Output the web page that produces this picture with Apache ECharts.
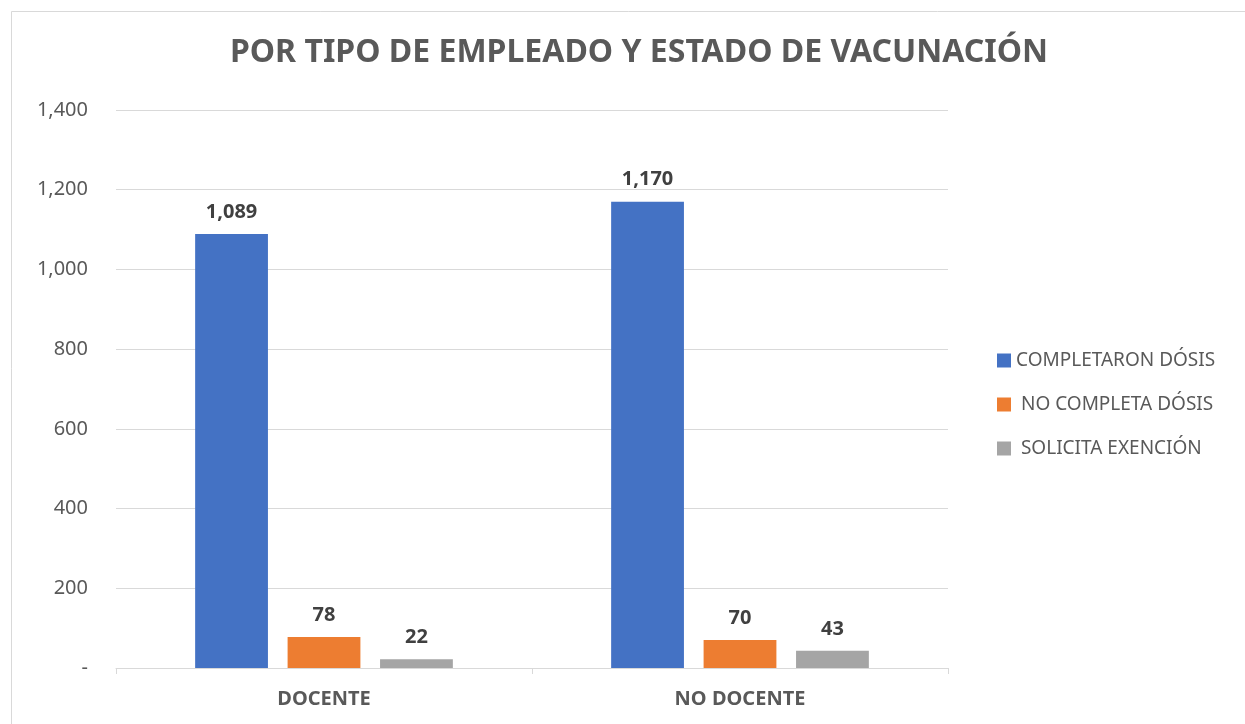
<!DOCTYPE html>
<html>
<head>
<meta charset="utf-8">
<script src="https://cdn.jsdelivr.net/npm/echarts@6/dist/echarts.min.js"></script>
<style>
  html, body { margin: 0; padding: 0; background: #fff; }
  #chart { width: 1245px; height: 724px; }
</style>
</head>
<body>
<div id="chart"></div>
<script>
// datos
const categories = ['DOCENTE', 'NO DOCENTE'];
const seriesNames = ['COMPLETARON DÓSIS', ' NO COMPLETA DÓSIS', ' SOLICITA EXENCIÓN'];
const completaron = [1089, 1170];
const noCompleta = [78, 70];
const solicita = [22, 43];
const colors = ['#4472c4', '#ed7d31', '#a5a5a5'];

const fontFam = '"Noto Sans", "Open Sans", sans-serif';

const fmt = (v) => (v === 0 ? '-' : v.toLocaleString('en-US'));

const chart = echarts.init(document.getElementById('chart'));

const mkSeries = (name, data, i) => ({
  name: name,
  type: 'bar',
  data: data,
  barWidth: '17.5%',
  barGap: '27%',
  itemStyle: { color: colors[i] },
  label: {
    show: true,
    position: 'top',
    distance: 12,
    fontFamily: fontFam,
    fontWeight: 'bold',
    fontSize: 20,
    color: '#404040',
    formatter: (p) => fmt(p.value),
  },
});

chart.setOption({
  backgroundColor: '#fff',
  animation: false,
  color: colors,
  title: {
    text: 'POR TIPO DE EMPLEADO Y ESTADO DE VACUNACIÓN',
    left: 634,
    textAlign: 'center',
    top: 32,
    textStyle: {
      fontFamily: fontFam,
      fontWeight: 'bold',
      fontSize: 32,
      color: '#595959',
    },
  },
  graphic: [
    {
      type: 'rect',
      shape: { x: 11.5, y: 11.5, width: 1300, height: 800 },
      style: { fill: 'none', stroke: '#d9d9d9', lineWidth: 1 },
      silent: true,
    },
  ],
  legend: {
    orient: 'vertical',
    left: 992,
    top: 346,
    itemWidth: 14,
    itemHeight: 14,
    itemGap: 25,
    icon: 'rect',
    textStyle: {
      fontFamily: fontFam,
      fontSize: 19,
      color: '#595959',
    },
  },
  grid: {
    left: 116,
    right: 297,
    top: 110,
    bottom: 56,
  },
  xAxis: {
    type: 'category',
    data: categories,
    axisLine: { lineStyle: { color: '#d9d9d9', width: 1 } },
    axisTick: { show: true, length: 6, lineStyle: { color: '#d9d9d9' } },
    axisLabel: {
      margin: 21,
      fontFamily: fontFam,
      fontWeight: 'bold',
      fontSize: 20,
      color: '#595959',
    },
  },
  yAxis: {
    type: 'value',
    min: 0,
    max: 1400,
    interval: 200,
    axisLine: { show: false },
    axisTick: { show: false },
    splitLine: { lineStyle: { color: '#d9d9d9', width: 1 } },
    axisLabel: {
      margin: 28,
      fontFamily: fontFam,
      fontSize: 20,
      color: '#595959',
      formatter: fmt,
    },
  },
  series: [
    mkSeries(seriesNames[0], completaron, 0),
    mkSeries(seriesNames[1], noCompleta, 1),
    mkSeries(seriesNames[2], solicita, 2),
  ],
});
</script>
</body>
</html>
